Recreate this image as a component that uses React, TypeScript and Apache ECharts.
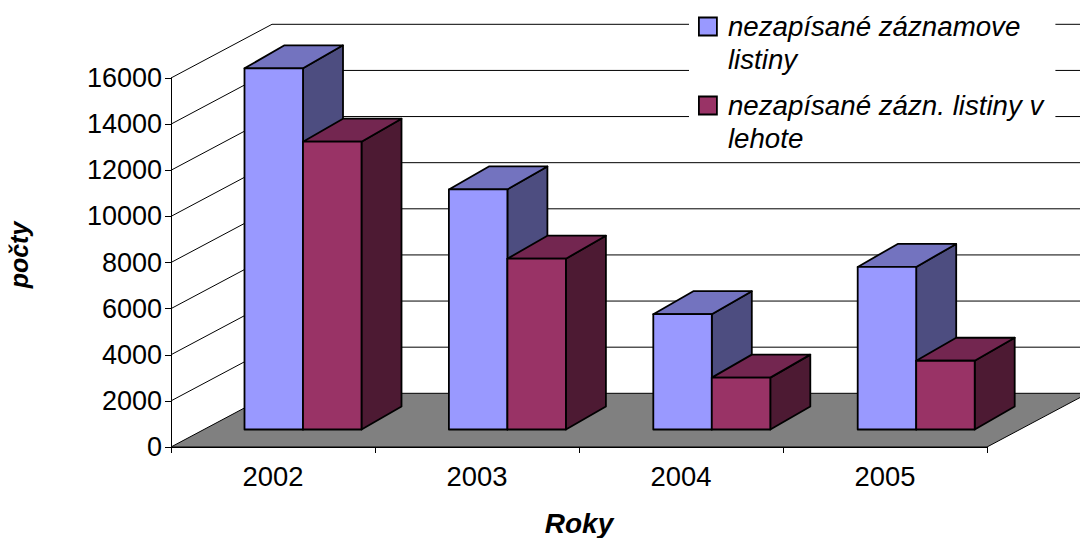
import React, { useEffect, useRef } from "react";
import * as echarts from "echarts";

const years = ["2002", "2003", "2004", "2005"];
const seriesNameA = "nezapísané záznamove listiny";
const seriesNameB = "nezapísané zázn. listiny v lehote";
const valuesA = [15660, 10410, 5000, 7050];
const valuesB = [12480, 7405, 2250, 2980];
const yTicks = [0, 2000, 4000, 6000, 8000, 10000, 12000, 14000, 16000];
const legendLabels: Record<string, string> = {
  [seriesNameA]: "\nnezapísané záznamove\nlistiny",
  [seriesNameB]: "\nnezapísané zázn. listiny v\nlehote",
};

const FONT = "'Liberation Sans', Arial, sans-serif";
const WALL_DX = 101;
const WALL_DY = -53.7;
const BAR_DX = 40;
const BAR_DY = -23;
const BAR_W = 58.5;
const BASE_DX = 30;
const BASE_SKEW = 0.4;
const BASE_DY = -17.5;

const wallItem = (params: any, api: any) => {
  const v = api.value(1);
  const band = api.size([1, 0])[0];
  const [cx, y] = api.coord([0, v]);
  const left = cx - band / 2;
  const right = left + band * 4;
  const lineStyle = { stroke: "#000", lineWidth: 1, fill: "none" };
  const children: any[] = [];
  if (v === 0) {
    children.push({
      type: "polygon",
      shape: {
        points: [
          [left, y],
          [left + WALL_DX, y + WALL_DY],
          [right + WALL_DX, y + WALL_DY],
          [right, y],
        ],
      },
      style: { fill: "#808080", stroke: "#000", lineWidth: 1 },
    });
  } else {
    children.push({
      type: "polyline",
      shape: {
        points: [
          [left, y],
          [left + WALL_DX, y + WALL_DY],
          [right + WALL_DX, y + WALL_DY],
        ],
      },
      style: lineStyle,
    });
  }
  return { type: "group", children };
};

const barItem = (front: string, top: string, side: string, slot: number) => (params: any, api: any) => {
  const i = api.value(0);
  const v = api.value(1);
  const [cx, yTop0] = api.coord([i, v]);
  const [, yBase0] = api.coord([i, 0]);
  const x0 = cx + BASE_DX + i * BASE_SKEW + (slot - 1) * BAR_W;
  const x1 = x0 + BAR_W;
  const yTop = yTop0 + BASE_DY;
  const yBase = yBase0 + BASE_DY;
  const stroke = { stroke: "#000", lineWidth: 1.8, lineJoin: "round" };
  return {
    type: "group",
    children: [
      {
        type: "polygon",
        shape: { points: [[x1, yTop], [x1 + BAR_DX, yTop + BAR_DY], [x1 + BAR_DX, yBase + BAR_DY], [x1, yBase]] },
        style: { fill: side, ...stroke },
      },
      {
        type: "polygon",
        shape: { points: [[x0, yTop], [x0 + BAR_DX, yTop + BAR_DY], [x1 + BAR_DX, yTop + BAR_DY], [x1, yTop]] },
        style: { fill: top, ...stroke },
      },
      {
        type: "rect",
        shape: { x: x0, y: yTop, width: BAR_W, height: yBase - yTop },
        style: { fill: front, ...stroke },
      },
    ],
  };
};

export default function App() {
  const ref = useRef<HTMLDivElement>(null);
  useEffect(() => {
    const chart = echarts.init(ref.current!, undefined, { renderer: "svg" });
    chart.setOption({
      animation: false,
      textStyle: { fontFamily: FONT },
      grid: { left: 171, right: 93, top: 78, bottom: 91, outerBoundsMode: "none" },
      legend: {
        left: 689,
        top: -24,
        orient: "vertical",
        icon: "rect",
        itemWidth: 18,
        itemHeight: 18,
        itemGap: -22,
        padding: [0, 12, 4, 9],
        backgroundColor: "#fff",
        selectedMode: false,
        formatter: (n: string) => legendLabels[n],
        textStyle: {
          fontFamily: FONT,
          fontSize: 27.7,
          fontStyle: "italic",
          color: "#000",
          lineHeight: 33,
          padding: [2, 0, 0, 6],
        },
        data: [
          { name: seriesNameA, itemStyle: { color: "#9999FF", borderColor: "#000", borderWidth: 1.8 } },
          { name: seriesNameB, itemStyle: { color: "#993366", borderColor: "#000", borderWidth: 1.8 } },
        ],
      },
      xAxis: {
        type: "category",
        data: years,
        name: "Roky",
        nameLocation: "middle",
        nameGap: 62,
        nameTextStyle: { fontFamily: FONT, fontSize: 28, fontWeight: "bold", fontStyle: "italic", color: "#000" },
        axisLine: { show: true, lineStyle: { color: "#000", width: 1 } },
        axisTick: { show: true, length: 6, lineStyle: { color: "#000", width: 1 } },
        axisLabel: { fontFamily: FONT, fontSize: 27.4, color: "#000", margin: 16 },
        splitLine: { show: false },
      },
      yAxis: {
        type: "value",
        min: 0,
        max: 16000,
        interval: 2000,
        name: "počty",
        nameLocation: "middle",
        nameGap: 140,
        nameTextStyle: {
          fontFamily: FONT,
          fontSize: 25,
          fontWeight: "bold",
          fontStyle: "italic",
          color: "#000",
          padding: [0, 0, 0, 15],
        },
        axisLine: { show: true, lineStyle: { color: "#000", width: 1 } },
        axisTick: { show: true, length: 6, lineStyle: { color: "#000", width: 1 } },
        axisLabel: { fontFamily: FONT, fontSize: 27, color: "#000", margin: 9, formatter: (v: number) => String(v) },
        splitLine: { show: false },
      },
      series: [
        {
          type: "custom",
          name: "walls",
          silent: true,
          z: 1,
          renderItem: wallItem,
          encode: { x: 0, y: 1 },
          data: yTicks.map((v) => [0, v]),
        },
        {
          type: "custom",
          name: seriesNameA,
          z: 3,
          renderItem: barItem("#9999FF", "#7373BF", "#4D4D80", 0),
          encode: { x: 0, y: 1 },
          data: valuesA.map((v, i) => [i, v]),
        },
        {
          type: "custom",
          name: seriesNameB,
          z: 3,
          renderItem: barItem("#993366", "#732650", "#4D1A33", 1),
          encode: { x: 0, y: 1 },
          data: valuesB.map((v, i) => [i, v]),
        },
      ],
    });
    return () => chart.dispose();
  }, []);
  return <div ref={ref} style={{ position: "absolute", left: 0, top: 0, width: 1080, height: 538 }} />;
}
